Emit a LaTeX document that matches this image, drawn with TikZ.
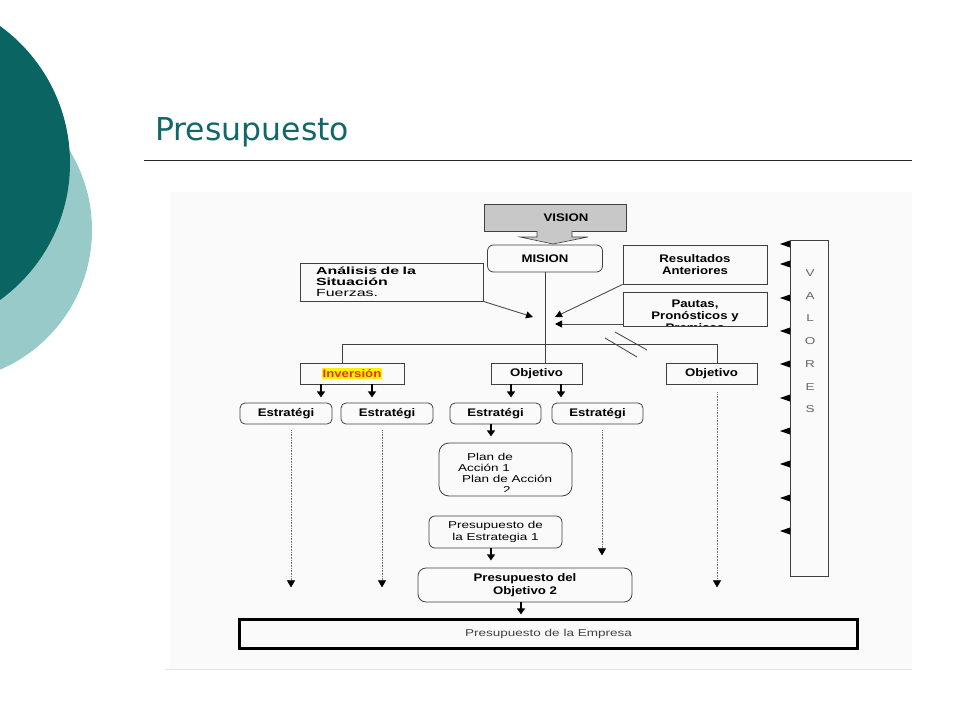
\documentclass[tikz,border=0pt]{standalone}
\usepackage{fontspec}
\usetikzlibrary{arrows.meta}
\newfontfamily\ttlfont{DejaVu Sans}
\newfontfamily\dgmb[FakeStretch=1.2]{Liberation Sans}
\newfontfamily\dgmr[FakeStretch=1.35]{Liberation Sans}
\newfontfamily\dgmw[FakeStretch=1.55]{Liberation Sans}

\begin{document}
\begin{tikzpicture}[x=1pt,y=-1pt,
  box/.style={draw=black!75,line width=0.8pt,inner sep=0pt,align=center,
    font=\dgmb\bfseries\fontsize{11}{12.5}\selectfont},
  rbox/.style={box,rounded corners=6pt},
  line/.style={draw=black!75,line width=0.8pt},
  lnk/.style={draw=black!70,line width=0.9pt,-{Triangle[length=7pt,width=7pt,color=black]}},
  drop/.style={draw=black,line width=1.3pt,-{Triangle[length=6pt,width=8pt]}},
  dots/.style={draw=black!55,line width=0.6pt,densely dotted,-{Triangle[length=7pt,width=8pt,color=black]}}]

\definecolor{tealdark}{RGB}{10,100,98}
\definecolor{teallight}{RGB}{152,202,202}
\definecolor{titleteal}{RGB}{18,104,104}
\definecolor{boxgray}{RGB}{200,200,200}
\definecolor{invred}{RGB}{225,55,20}

\useasboundingbox (0,0) rectangle (960,720);
\clip (0,0) rectangle (960,720);

\fill[teallight](-60,230)circle(152pt);
\fill[tealdark](-99,163)circle(169pt);

\node[anchor=base west,inner sep=0pt,text=titleteal,font=\ttlfont\fontsize{31.5}{36}\selectfont] (title) at (155,140) {Presupuesto};
\draw[black!85,line width=0.8pt](144,160)--(912,160);

\fill[black!2](170,192)rectangle(912,669);
\draw[black!10,line width=1pt](165,669)--(912,669);

% top of the chart
\node[box,fill=boxgray,minimum width=142pt,minimum height=27pt] (vision) at (555,217.5) {\hspace*{22pt}VISION};
\filldraw[fill=boxgray,draw=black!75,line width=0.6pt](537,231)--(537,237)--(520,237)--(553,244)--(588,237)--(572,237)--(572,231);
\node[rbox,minimum width=115pt,minimum height=27pt] (mision) at (545,258.5) {MISION};

\node[box,minimum width=183pt,minimum height=38pt,align=left,text width=151pt,
  font=\dgmw\fontsize{10.3}{11}\selectfont] (analisis) at (391.5,282) {\textbf{Análisis de la}\\\textbf{Situación}\\Fuerzas.};
\node[box,minimum width=144pt,minimum height=39pt] (result) at (695,264.5) {Resultados\\Anteriores};
\node[box,minimum width=144pt,minimum height=34pt] (pautas) at (695,309) {};
\begin{scope}
\clip(623,292)rectangle(767,325);
\node[inner sep=0pt,align=center,font=\dgmb\bfseries\fontsize{11}{12}\selectfont] (pautastxt) at (695,315.5) {Pautas,\\Pronósticos y\\Premisas};
\end{scope}

\coordinate (inA) at (533,317);
\coordinate (inR) at (555,317);
\coordinate (inP) at (555,324);
\draw[lnk](analisis.south east)--(inA);
\draw[lnk](result.south west)--(inR);
\draw[lnk]([yshift=-15pt]pautas.west)--(inP);

% valores
\node[draw=black!75,line width=0.8pt,minimum width=38pt,minimum height=336pt,inner sep=0pt] (valores) at (809,408) {};
\node[anchor=north,inner sep=0pt,align=center,text=black!60,font=\dgmr\fontsize{10}{22.7}\selectfont] (valtxt) at (810,269.5) {V\\A\\L\\O\\R\\E\\S};
\foreach \y in {244,264,298,331,364,398,431,464,498,531}{
  \fill(790,\y-3.5)--(780,\y)--(790,\y+3.5)--cycle;
}

% objetivos
\node[box,minimum width=104pt,minimum height=21pt] (inversion) at (352,373.5) {\setlength{\fboxsep}{1pt}\colorbox{yellow}{\textcolor{invred}{Inversión}}};
\node[box,minimum width=91pt,minimum height=21pt] (obj1) at (536.5,373.5) {Objetivo};
\node[box,minimum width=91pt,minimum height=21pt] (obj2) at (711.5,373.5) {Objetivo};

\coordinate (busL) at (342,344);
\coordinate (busR) at (717,344);
\draw[line](inversion.north -| busL)--(busL)--(busR)--(busR |- obj2.north);
\draw[line](mision.south)--(mision.south |- obj1.north);
\draw[line](605,338)--(637,357);
\draw[line](615,332)--(647,350);

\foreach \n/\x/\w in {est1/286/92,est2/387/92,est3/495.5/91,est4/597.5/91}{
  \node[rbox,rounded corners=5pt,minimum width=\w pt,minimum height=21pt] (\n) at (\x,413.5) {Estratégi};
}

\draw[drop]([xshift=-31pt]inversion.south)--++(0,13);
\draw[drop]([xshift=20pt]inversion.south)--++(0,13);
\draw[drop]([xshift=-25.5pt]obj1.south)--++(0,13);
\draw[drop]([xshift=24.5pt]obj1.south)--++(0,13);
\draw[drop]([xshift=-4.5pt]est3.south)--++(0,12);

% plan and budgets
\node[rbox,rounded corners=10pt,minimum width=133pt,minimum height=53pt] (plan) at (505.5,469.5) {};
\begin{scope}
\clip(439,443)rectangle(572,491.5);
\node[anchor=north west,inner sep=0pt,align=left,font=\dgmr\fontsize{10}{11}\selectfont] (plantxt) at (458,453.5) {\hspace*{9pt}Plan de\\Acción 1\\\hspace*{4pt}Plan de Acción\\\hspace*{45pt}2};
\end{scope}

\node[rbox,rounded corners=6pt,minimum width=133pt,minimum height=32pt,
  font=\dgmr\fontsize{10}{11.5}\selectfont] (presest) at (495.5,532) {Presupuesto de\\la Estrategia 1};
\draw[drop]([xshift=-4.5pt]presest.south)--++(0,12);

\node[rbox,rounded corners=8pt,minimum width=214pt,minimum height=34pt] (presobj) at (525,585) {Presupuesto del\\Objetivo 2};
\draw[drop]([xshift=-4pt]presobj.south)--++(0,12);

\node[draw=black,line width=3pt,minimum width=618pt,minimum height=29pt,inner sep=0pt,
  text=black!75,font=\dgmr\fontsize{10}{12}\selectfont] (empresa) at (548.5,634) {\raisebox{2pt}{Presupuesto de la Empresa}};

\draw[dots]([xshift=5pt,yshift=-6pt]est1.south)--++(0,157);
\draw[dots]([xshift=-5pt,yshift=-6pt]est2.south)--++(0,157);
\draw[dots]([xshift=4.5pt,yshift=-6pt]est4.south)--++(0,125);
\draw[dots]([xshift=5.5pt,yshift=-8pt]obj2.south)--++(0,195);

\end{tikzpicture}
\end{document}
